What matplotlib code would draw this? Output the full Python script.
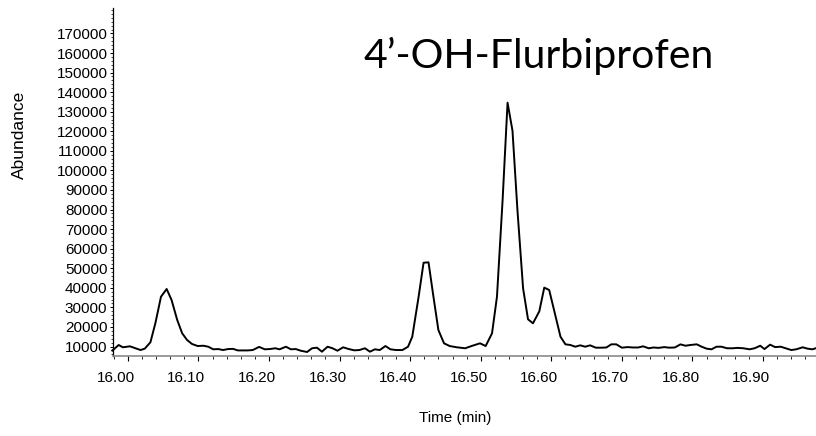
import matplotlib
matplotlib.use( "Agg" )
import matplotlib.pyplot as plt
import matplotlib.transforms as mtransforms
from matplotlib.ticker import MultipleLocator


# CHROMATOGRAM DATA
#=============================================================================================================================
time_min = [ 15.978, 15.987, 15.993, 16.003, 16.010, 16.018, 16.024, 16.032, 16.039, 16.047,
             16.055, 16.062, 16.070, 16.077, 16.084, 16.091, 16.099, 16.107, 16.114, 16.121,
             16.128, 16.135, 16.142, 16.149, 16.156, 16.163, 16.170, 16.177, 16.186, 16.194,
             16.201, 16.209, 16.215, 16.224, 16.231, 16.238, 16.245, 16.254, 16.261, 16.268,
             16.275, 16.283, 16.290, 16.297, 16.305, 16.313, 16.321, 16.328, 16.336, 16.343,
             16.350, 16.357, 16.365, 16.372, 16.380, 16.389, 16.397, 16.403, 16.412, 16.419,
             16.426, 16.433, 16.440, 16.448, 16.456, 16.466, 16.478, 16.487, 16.499, 16.507,
             16.516, 16.523, 16.531, 16.538, 16.545, 16.552, 16.560, 16.567, 16.574, 16.583,
             16.590, 16.597, 16.605, 16.613, 16.620, 16.627, 16.634, 16.641, 16.648, 16.655,
             16.663, 16.671, 16.678, 16.685, 16.692, 16.700, 16.708, 16.716, 16.723, 16.730,
             16.738, 16.745, 16.752, 16.760, 16.767, 16.775, 16.783, 16.790, 16.797, 16.806,
             16.813, 16.820, 16.827, 16.834, 16.841, 16.849, 16.857, 16.864, 16.872, 16.881,
             16.888, 16.896, 16.902, 16.910, 16.917, 16.925, 16.932, 16.940, 16.947, 16.956,
             16.963, 16.970, 16.977 ]

abundance = [ 7900, 10770, 9600, 10100, 9230, 8200, 8900, 12150, 21860, 35450,
              39400, 33750, 23540, 16750, 13300, 11280, 10250, 10400, 9900, 8570,
              8700, 8200, 8700, 8800, 8000, 8000, 8000, 8200, 9800, 8570,
              8700, 9100, 8570, 9900, 8570, 8700, 7850, 7200, 9100, 9400,
              7350, 9900, 9100, 7850, 9600, 8700, 8050, 8200, 9100, 7350,
              8570, 8200, 10250, 8570, 8200, 8200, 9900, 15000, 35450, 52820,
              53030, 35450, 18430, 11630, 10250, 9600, 9100, 10250, 11630, 10250,
              16750, 35450, 85000, 134600, 120270, 79750, 39740, 23900, 21860, 28000,
              40100, 38870, 26960, 15000, 11120, 10770, 9900, 10600, 9900, 10600,
              9400, 9400, 9500, 11120, 11120, 9400, 9700, 9500, 9500, 10100,
              9100, 9500, 9300, 9700, 9400, 9500, 11100, 10400, 10770, 11120,
              9900, 8900, 8570, 9900, 9900, 9100, 9100, 9300, 9100, 8570,
              9100, 10400, 8700, 10950, 9700, 9900, 9100, 8200, 8570, 9600,
              8900, 8570, 9400 ]

x_ticks = [ 16.00, 16.10, 16.20, 16.30, 16.40, 16.50, 16.60, 16.70, 16.80, 16.90 ]
y_ticks = list( range( 10000, 180000, 10000 ) )

title_text = "4\u2019-OH-Flurbiprofen"


# GRÁFICA MATPLOTLIB
#¨¨¨¨¨¨¨¨¨¨¨¨¨¨¨¨¨¨¨¨¨¨¨¨¨¨¨¨¨¨¨¨¨¨¨¨¨¨¨¨¨¨¨¨¨¨¨¨¨¨¨¨¨¨¨¨¨¨¨¨¨¨¨¨¨¨¨¨¨¨¨¨¨¨¨¨¨¨¨¨¨¨¨¨¨¨¨¨¨¨
plt.rcParams[ "font.family" ] = [ "Liberation Sans", "DejaVu Sans" ]

fig = plt.figure( figsize = ( 8.16, 4.36 ), dpi = 100 )
ax  = fig.add_axes( [ 113 / 816, 80 / 436, 703 / 816, 348 / 436 ] )

ax.plot( time_min, abundance, color = "black", linewidth = 1.4, clip_on = False )

ax.set_xlim( 15.979, 16.975 )
ax.set_ylim( 5150, 183000 )

ax.spines[ "top" ].set_visible( False )
ax.spines[ "right" ].set_visible( False )
ax.spines[ "left" ].set_linewidth( 0.9 )
ax.spines[ "bottom" ].set_linewidth( 1.2 )
ax.spines[ "bottom" ].set_color( "#8a8a8a" )

ax.set_xticks( x_ticks )
ax.set_xticklabels( [ f"{t:.2f}" for t in x_ticks ] )
ax.set_yticks( y_ticks )
ax.set_yticklabels( [ str( v ) for v in y_ticks ] )
ax.xaxis.set_minor_locator( MultipleLocator( 0.02 ) )
ax.yaxis.set_minor_locator( MultipleLocator( 2000 ) )

ax.tick_params( axis = "x", which = "major", length = 3.5, width = 0.8, pad = 7,
                labelsize = 11, color = "black" )
ax.tick_params( axis = "x", which = "minor", length = 2, width = 0.6, color = "black" )
ax.tick_params( axis = "y", which = "major", length = 2.5, width = 0.7, pad = 1.5,
                labelsize = 11 )
ax.tick_params( axis = "y", which = "minor", length = 1.2, width = 0.5 )

# the x labels of the original sit a bit to the left of their ticks
shift = mtransforms.ScaledTranslation( -12 / 100, 0, fig.dpi_scale_trans )
for lbl in ax.get_xticklabels():
    lbl.set_transform( lbl.get_transform() + shift )

fig.text( 19 / 816, 1 - 135 / 436, "Abundance", rotation = 90,
          ha = "center", va = "center", fontsize = 12.5 )
fig.text( 455 / 816, 1 - 418 / 436, "Time (min)",
          ha = "center", va = "center", fontsize = 11 )
fig.text( 363 / 816, 1 - 68 / 436, title_text, ha = "left", va = "baseline",
          fontsize = 29.5, family = [ "Lato", "DejaVu Sans" ] )

plt.savefig( "out.png", dpi = 100 )
#=============================================================================================================================
